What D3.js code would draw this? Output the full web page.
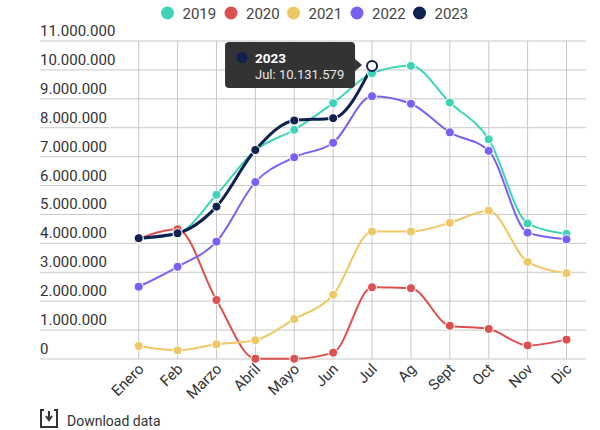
<!DOCTYPE html>
<html lang="es">
  <head>
    <meta charset="UTF-8" />
    <title>Chart</title>
    <style>
      body { margin: 0; background: #fff; }
      svg text { font-family: Roboto, 'Noto Sans', sans-serif; }
    </style>
  </head>
  <body>
    <script src="https://d3js.org/d3.v7.min.js"></script>

    <svg id="chart" width="600" height="430"></svg>

    <script>
      const months = ['Enero', 'Feb', 'Marzo', 'Abril', 'Mayo', 'Jun', 'Jul', 'Ag', 'Sept', 'Oct', 'Nov', 'Dic'];
      const years = ['2019', '2020', '2021', '2022', '2023'];
      const colors = ['#3fd4b8', '#dc5050', '#efc866', '#7a5ff5', '#0f2150'];

      const v2019 = [4150000, 4330000, 5680000, 7220000, 7930000, 8850000, 9880000, 10140000, 8870000, 7600000, 4690000, 4330000];
      const v2020 = [4150000, 4490000, 2040000, 10000, 10000, 220000, 2480000, 2450000, 1150000, 1040000, 470000, 670000];
      const v2021 = [450000, 300000, 510000, 650000, 1380000, 2220000, 4410000, 4410000, 4710000, 5130000, 3360000, 2970000];
      const v2022 = [2500000, 3190000, 4060000, 6120000, 6980000, 7480000, 9090000, 8830000, 7840000, 7200000, 4370000, 4140000];
      const v2023 = [4180000, 4350000, 5270000, 7230000, 8250000, 8330000, 10131579, null, null, null, null, null];
      const series = [v2019, v2020, v2021, v2022, v2023];

      const yTicks = [0, 1000000, 2000000, 3000000, 4000000, 5000000, 6000000, 7000000, 8000000, 9000000, 10000000, 11000000];

      // tooltip shown on the last 2023 point
      const hoverYear = 4;
      const hoverMonth = 6;

      const es = d3.formatLocale({ decimal: ',', thousands: '.', grouping: [3], currency: ['', ''] });
      const fmt = es.format(',d');

      const svg = d3.select('#chart');
      const plotLeft = 40, plotRight = 586, plotTop = 41, plotBottom = 359;

      const x = d3.scalePoint().domain(months).range([138.7, 566.5]);
      const y = d3.scaleLinear().domain([0, 11000000]).range([plotBottom, plotTop]);

      // grid
      const grid = svg.append('g');
      grid.selectAll('line.h')
        .data(yTicks)
        .enter()
        .append('line')
        .attr('x1', plotLeft).attr('x2', plotRight)
        .attr('y1', (d) => y(d)).attr('y2', (d) => y(d))
        .attr('stroke', '#c8c8c8').attr('stroke-width', 1);
      grid.selectAll('line.v')
        .data(months)
        .enter()
        .append('line')
        .attr('x1', (d) => x(d)).attr('x2', (d) => x(d))
        .attr('y1', plotTop).attr('y2', plotBottom)
        .attr('stroke', '#c8c8c8').attr('stroke-width', 1);

      // y labels sit above their grid line
      svg.append('g').selectAll('text')
        .data(yTicks)
        .enter()
        .append('text')
        .attr('x', plotLeft)
        .attr('y', (d) => y(d) - 5)
        .attr('font-size', 15)
        .attr('fill', '#333')
        .text((d) => fmt(d));

      // x labels
      svg.append('g').selectAll('text')
        .data(months)
        .enter()
        .append('text')
        .attr('transform', (d) => `translate(${x(d) + 6},${plotBottom + 11}) rotate(-45)`)
        .attr('text-anchor', 'end')
        .attr('font-size', 15)
        .attr('fill', '#333')
        .text((d) => d);

      // lines
      const line = d3.line()
        .defined((d) => d != null)
        .x((d, i) => x(months[i]))
        .y((d) => y(d))
        .curve(d3.curveMonotoneX);

      const lines = svg.append('g');
      series.forEach((s, k) => {
        lines.append('path')
          .attr('d', line(s))
          .attr('fill', 'none')
          .attr('stroke', colors[k])
          .attr('stroke-width', k === 4 ? 3 : 2);
      });

      series.forEach((s, k) => {
        lines.append('g').selectAll('circle')
          .data(s.map((v, i) => ({ v, i })).filter((d) => d.v != null))
          .enter()
          .append('circle')
          .attr('cx', (d) => x(months[d.i]))
          .attr('cy', (d) => y(d.v))
          .attr('r', (d) => (k === hoverYear && d.i === hoverMonth ? 5 : 4.5))
          .attr('fill', (d) => (k === hoverYear && d.i === hoverMonth ? '#fff' : colors[k]))
          .attr('stroke', (d) => (k === hoverYear && d.i === hoverMonth ? colors[k] : '#fff'))
          .attr('stroke-width', (d) => (k === hoverYear && d.i === hoverMonth ? 2 : 1));
      });

      // legend
      const legendX = [167.5, 231, 293.5, 357, 419.5];
      const legend = svg.append('g').selectAll('g')
        .data(years)
        .enter()
        .append('g')
        .attr('transform', (d, i) => `translate(${legendX[i]},13)`);
      legend.append('circle').attr('r', 6.5).attr('fill', (d, i) => colors[i]);
      legend.append('text')
        .attr('x', 15).attr('y', 5.5)
        .attr('font-size', 15)
        .attr('fill', '#444')
        .text((d) => d);

      // tooltip
      const hx = x(months[hoverMonth]);
      const hy = y(series[hoverYear][hoverMonth]);
      const tip = svg.append('g');
      tip.append('rect')
        .attr('x', hx - 147).attr('y', hy - 24)
        .attr('width', 130).attr('height', 46)
        .attr('rx', 4)
        .attr('fill', '#333');
      tip.append('path')
        .attr('d', `M${hx - 17},${hy - 7}L${hx - 10},${hy - 1}L${hx - 17},${hy + 5}Z`)
        .attr('fill', '#333');
      tip.append('circle')
        .attr('cx', hx - 130).attr('cy', hy - 8.5)
        .attr('r', 5.5)
        .attr('fill', colors[hoverYear]);
      tip.append('text')
        .attr('x', hx - 117).attr('y', hy - 3.5)
        .attr('font-size', 13.5).attr('font-weight', 'bold')
        .attr('fill', '#fff')
        .text(years[hoverYear]);
      tip.append('text')
        .attr('x', hx - 117).attr('y', hy + 12.5)
        .attr('font-size', 13)
        .attr('fill', '#e6e6e6')
        .text(`${months[hoverMonth]}: ${fmt(series[hoverYear][hoverMonth])}`);

      // download link
      const dl = svg.append('g').attr('transform', 'translate(40,409)');
      dl.append('path')
        .attr('d', 'M4,1H1V18H17V1H14')
        .attr('fill', 'none').attr('stroke', '#333').attr('stroke-width', 2);
      dl.append('path')
        .attr('d', 'M9,2V10M6,7L9,11L12,7')
        .attr('fill', 'none').attr('stroke', '#333').attr('stroke-width', 2);
      dl.append('text')
        .attr('x', 27).attr('y', 17)
        .attr('font-size', 14)
        .attr('fill', '#333')
        .text('Download data');
    </script>
  </body>
</html>
